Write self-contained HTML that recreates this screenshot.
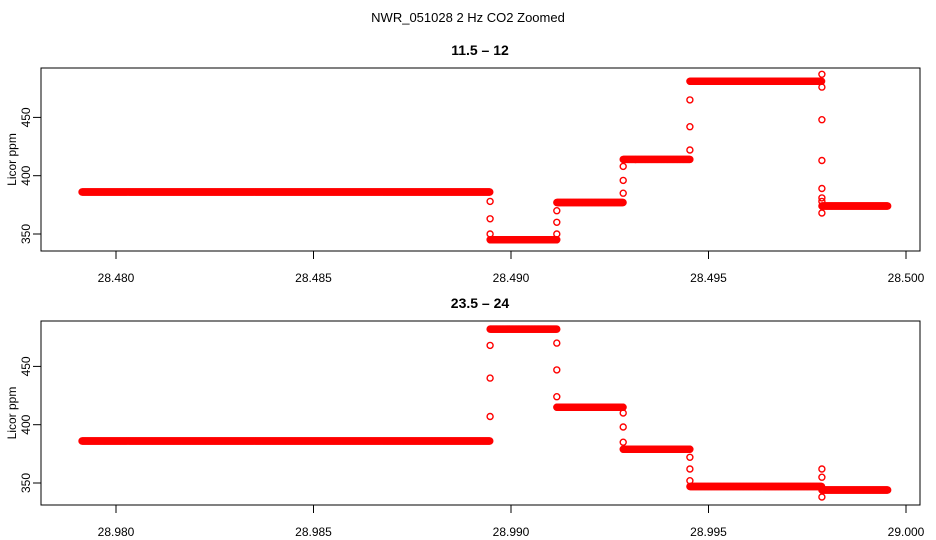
<!DOCTYPE html>
<html><head><meta charset="utf-8"><style>
body{margin:0;background:#fff;}
svg{display:block;font-family:"Liberation Sans",sans-serif;}
</style></head><body>
<svg id="c" width="936" height="540">
<text x="468" y="22" text-anchor="middle" font-size="13">NWR_051028  2 Hz CO2 Zoomed</text>
</svg>
<script>
// Panel 1 data (11.5 - 12)
const p1Title = "11.5 \u2013 12";
const p1Levels = [386, 345, 377, 414, 481, 374];
const p1Breaks = [28.47914, 28.48947, 28.49116, 28.49284, 28.49453, 28.49787, 28.49954];
const p1Trans = [[378, 363, 350], [350, 360, 370], [385, 396, 408], [422, 442, 465], [487, 476, 448, 413, 389, 381, 378, 368]];
const p1XTicks = ["28.480", "28.485", "28.490", "28.495", "28.500"];
// Panel 2 data (23.5 - 24)
const p2Title = "23.5 \u2013 24";
const p2Levels = [386, 482, 415, 379, 347, 344];
const p2Breaks = [28.97914, 28.98947, 28.99116, 28.99284, 28.99453, 28.99787, 28.99954];
const p2Trans = [[407, 440, 468], [470, 447, 424], [410, 398, 385], [372, 362, 352], [362, 355, 338]];
const p2XTicks = ["28.980", "28.985", "28.990", "28.995", "29.000"];
const yTicks = [350, 400, 450];

const NS = "http://www.w3.org/2000/svg";
const svg = document.getElementById('c');
function el(t, a, p) { const e = document.createElementNS(NS, t); for (const k in a) e.setAttribute(k, a[k]); (p || svg).appendChild(e); return e; }

function panel(top, bottom, y350, title, levels, breaks, trans, xticks, pname) {
  const g = el('g', {});
  
  
  const x0 = parseFloat(xticks[0]), x1 = parseFloat(xticks[xticks.length - 1]);
  const X = v => 116 + (v - x0) / (x1 - x0) * 790;
  const Y = v => y350 - (v - 350) / 50 * 58.3;
  const box = el('rect', { x: 41, y: top, width: 879, height: bottom - top, fill: 'none', stroke: '#000' }, g);
  
  
  const t = el('text', { x: 480, y: top - 13, 'text-anchor': 'middle', 'font-size': 14, 'font-weight': 'bold' }, g);
  t.textContent = title;
  
  
  xticks.forEach(s => {
    const x = X(parseFloat(s));
    el('line', { x1: x, x2: x, y1: bottom, y2: bottom + 8, stroke: '#000' }, g);
    const tx = el('text', { x: x, y: bottom + 31, 'text-anchor': 'middle', 'font-size': 12 }, g);
    tx.textContent = s;
    
    
  });
  yTicks.forEach(v => {
    const y = Y(v);
    el('line', { x1: 33, x2: 41, y1: y, y2: y, stroke: '#000' }, g);
    const ty = el('text', { x: 0, y: 0, 'text-anchor': 'middle', 'font-size': 12, transform: `translate(30,${y}) rotate(-90)` }, g);
    ty.textContent = v;
    
    
  });
  const yl = el('text', { x: 0, y: 0, 'text-anchor': 'middle', 'font-size': 12, transform: `translate(16,${(top + bottom) / 2}) rotate(-90)` }, g);
  yl.textContent = 'Licor ppm';
  
  
  const pts = el('g', { fill: 'none', stroke: '#f00', 'stroke-width': 1.4 }, g);
  
  
  const step = 1 / 86400;
  levels.forEach((lv, i) => {
    for (let tt = breaks[i]; tt < breaks[i + 1]; tt += step) {
      el('circle', { cx: X(tt).toFixed(1), cy: Y(lv).toFixed(1), r: 3 }, pts);
    }
    if (i < trans.length) {
      trans[i].forEach(v => {
        const c = el('circle', { cx: X(breaks[i + 1]).toFixed(1), cy: Y(v).toFixed(1), r: 3 }, pts);
        
        
      });
    }
  });
}
panel(68, 251, 234, p1Title, p1Levels, p1Breaks, p1Trans, p1XTicks, 'panel-11-5-12');
panel(321, 505, 483, p2Title, p2Levels, p2Breaks, p2Trans, p2XTicks, 'panel-23-5-24');
</script>
</body></html>
